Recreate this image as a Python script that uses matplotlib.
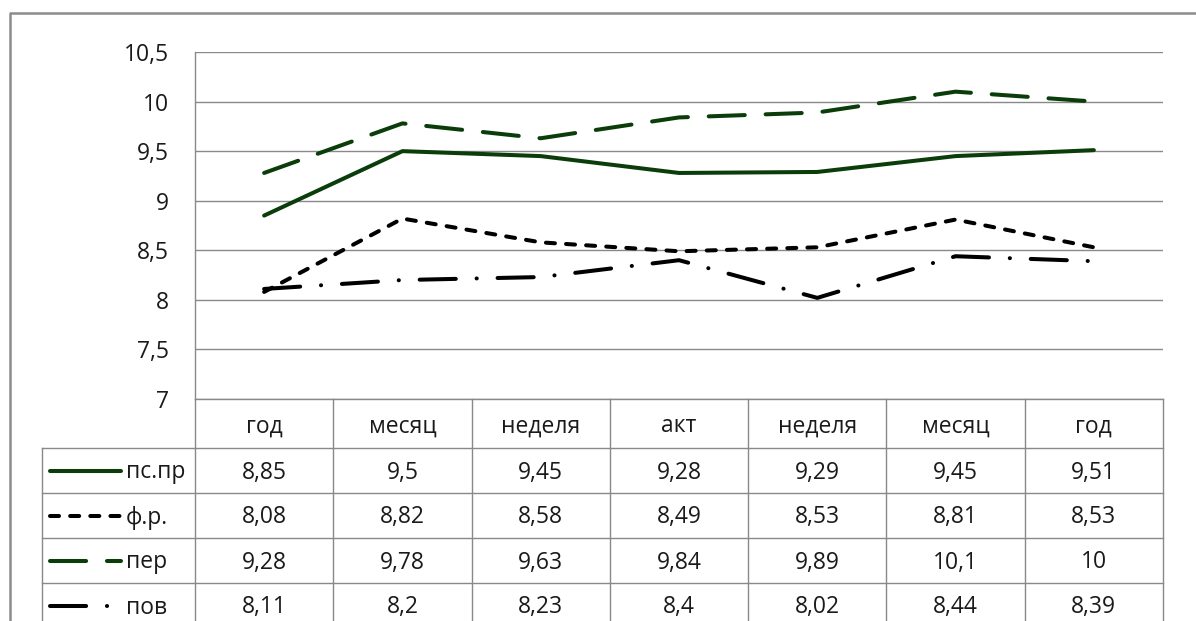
import numpy as np
import matplotlib.pyplot as plt

plt.rcParams['font.family'] = ['Open Sans', 'DejaVu Sans']
plt.rcParams['lines.scale_dashes'] = False

categories = ['год', 'месяц', 'неделя', 'акт', 'неделя', 'месяц', 'год']
series_names = ['пс.пр', 'ф.р.', 'пер', 'пов']
ps_pr = [8.85, 9.5, 9.45, 9.28, 9.29, 9.45, 9.51]
f_r = [8.08, 8.82, 8.58, 8.49, 8.53, 8.81, 8.53]
per = [9.28, 9.78, 9.63, 9.84, 9.89, 10.1, 10]
pov = [8.11, 8.2, 8.23, 8.4, 8.02, 8.44, 8.39]
y_ticks = [7, 7.5, 8, 8.5, 9, 9.5, 10, 10.5]

GREEN = '#0b3d0b'
GRAY = '#898989'
TXT = '#1a1a1a'
LW = 2.9
styles = [
    dict(color=GREEN, linestyle='-'),
    dict(color='black', linestyle=(0, (6.5, 8))),
    dict(color=GREEN, linestyle=(0, (26, 15))),
    dict(color='black', linestyle=(0, (26, 15, 0.1, 15))),
]
all_series = [ps_pr, f_r, per, pov]

def fmt(v):
    return ('%g' % v).replace('.', ',')

W, H = 1196, 621
fig = plt.figure(figsize=(W / 100, H / 100), dpi=100)

# background axes in pixel coords for the frame and the data table
bg = fig.add_axes([0, 0, 1, 1])
bg.set_xlim(0, W)
bg.set_ylim(H, 0)
bg.axis('off')

# plot area
left, right, top, bottom = 195, 1163, 52, 399
ax = fig.add_axes([left / W, 1 - bottom / H, (right - left) / W, (bottom - top) / H])
ax.patch.set_alpha(0)

# outer chart frame (cut off at right and bottom)
bg.plot([10, 10, W + 5], [H + 5, 13, 13], color='#8c8c8c', lw=1.8)

x = np.arange(len(categories)) + 0.5
for vals, st in zip(all_series, styles):
    ax.plot(x, vals, lw=LW, solid_capstyle='round', dash_capstyle='round', **st)

ax.set_xlim(0, len(categories))
ax.set_ylim(7, 10.5)
ax.set_yticks(y_ticks)
ax.set_yticklabels([fmt(t) for t in y_ticks], color=TXT)
ax.tick_params(axis='y', length=0, pad=19, labelsize=16.5)
ax.set_xticks([])
ax.grid(axis='y', color=GRAY, lw=1)
for s in ['top', 'right', 'bottom']:
    ax.spines[s].set_visible(False)
ax.spines['left'].set_color(GRAY)
ax.spines['left'].set_linewidth(1)

# data table below the plot
col_w = (right - left) / len(categories)
xs = [left + col_w * i for i in range(len(categories) + 1)]
row_y = [bottom, 448, 493, 538, 583, 628]
key_left = 42

for xv in xs:
    bg.plot([xv, xv], [bottom, H + 5], color=GRAY, lw=1)
bg.plot([key_left, key_left], [row_y[1], H + 5], color=GRAY, lw=1)
bg.plot([left, right], [bottom, bottom], color=GRAY, lw=1)
for yv in row_y[1:5]:
    bg.plot([key_left, right], [yv, yv], color=GRAY, lw=1)

for i, c in enumerate(categories):
    bg.text(left + col_w * (i + 0.5), (row_y[0] + row_y[1]) / 2 + 3, c,
            ha='center', va='center', fontsize=16.5, color=TXT)

for r, (name, vals, st) in enumerate(zip(series_names, all_series, styles)):
    yc = (row_y[r + 1] + row_y[r + 2]) / 2
    bg.plot([50, 121], [yc, yc], lw=LW, solid_capstyle='round',
            dash_capstyle='round', **st)
    bg.text(126, yc + 2, name, ha='left', va='center', fontsize=16.5, color=TXT)
    for i, v in enumerate(vals):
        bg.text(left + col_w * (i + 0.5), yc + 2, fmt(v),
                ha='center', va='center', fontsize=16.5, color=TXT)

fig.savefig('out.png', dpi=100)
